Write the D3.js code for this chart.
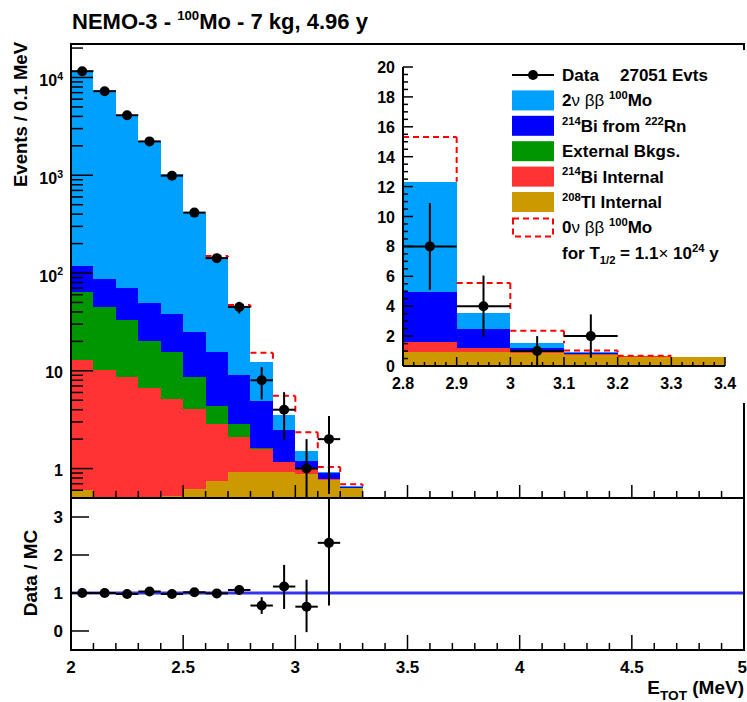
<!DOCTYPE html>
<html>
<head>
<meta charset="utf-8">
<script src="https://cdn.jsdelivr.net/npm/d3@7"></script>
<style>
body { margin: 0; background: #fff; }
text { font-family: "Liberation Sans", Arial, sans-serif; font-weight: bold; fill: #000; }
</style>
</head>
<body>
<script>
// bin lower edges (MeV), bin width 0.1
var binLo = [2.0, 2.1, 2.2, 2.3, 2.4, 2.5, 2.6, 2.7, 2.8, 2.9, 3.0, 3.1, 3.2, 3.3];
// MC components per bin (events / 0.1 MeV), stacked bottom -> top
var tl208    = [0.6, 0.3, 0.3, 0.3, 0.52, 0.62, 0.75, 0.93, 0.92, 0.93, 0.88, 0.76, 0.63, 0.62];
var bi214Int = [12.35, 10.0, 8.3, 6.4, 4.58, 3.48, 2.12, 1.17, 0.67, 0.25, 0.12, 0.03, 0.01, 0];
var extBkg   = [51, 34.2, 24.4, 13.3, 10.3, 4.5, 1.53, 0.73, 0.03, 0, 0, 0, 0, 0];
var bi214Rn  = [55, 42.5, 37, 29, 22.6, 16.4, 11, 6.2, 3.3, 1.32, 0.2, 0.11, 0.01, 0];
var twoNu    = [11210, 7320, 4040, 2170, 998, 385, 130, 35.5, 7.4, 1.05, 0.33, 0.02, 0.01, 0];
// 0nubb signal on top of the stack (dashed)
var zeroNu   = [0, 0, 0, 0, 0, 0, 4, 2.5, 3.0, 2.0, 0.82, 0.12, 0.03, 0];

// data
var dataCounts = [11600, 7240, 4110, 2220, 990, 415, 142, 45, 8, 4, 1, 2];
var dataLo     = [11490, 7155, 4046, 2173, 959, 395, 130, 38.6, 5.1, 1.95, 0, 0.55];
var dataHi     = [11710, 7325, 4174, 2267, 1021, 435, 154, 50.8, 10.9, 6.05, 2.0, 3.45];

// data / MC
var ratioVals = [1.0, 1.0, 0.975, 1.04, 0.975, 1.02, 0.99, 1.08, 0.67, 1.17, 0.64, 2.32];
var ratioLo   = [0.99, 0.99, 0.96, 1.02, 0.94, 0.97, 0.91, 0.96, 0.45, 0.58, -0.03, 0.67];
var ratioHi   = [1.01, 1.01, 0.99, 1.06, 1.01, 1.07, 1.07, 1.19, 0.89, 1.74, 1.35, 3.6];

var mainXTicks = [2, 2.5, 3, 3.5, 4, 4.5, 5];
var mainYDecades = [1, 10, 100, 1000, 10000];
var ratioYTicks = [0, 1, 2, 3];
var insetXTicks = [2.8, 2.9, 3.0, 3.1, 3.2, 3.3, 3.4];
var insetYTicks = [0, 2, 4, 6, 8, 10, 12, 14, 16, 18, 20];

var keys = ["tl", "biInt", "ext", "biRn", "twoNu"];
var colors = { tl: "#cc9900", biInt: "#ff3333", ext: "#009600", biRn: "#0000ff", twoNu: "#00a0ff" };

var rows = binLo.map(function(b, i) {
    return { lo: b, tl: tl208[i], biInt: bi214Int[i], ext: extBkg[i], biRn: bi214Rn[i], twoNu: twoNu[i], zero: zeroNu[i] };
});
var stacked = d3.stack().keys(keys)(rows);
var stackTop = rows.map(function(r, i) { return stacked[keys.length - 1][i][1]; });

var svg = d3.select("body").append("svg").attr("width", 747).attr("height", 702);

// scales
var x = d3.scaleLinear().domain([2, 5]).range([71, 744]);
var y = d3.scaleLog().domain([0.5, 22000]).range([498, 44]);
var yR = d3.scaleLinear().domain([-0.5, 3.5]).range([650, 498]);
var xi = d3.scaleLinear().domain([2.8, 3.4]).range([403, 725]);
var yi = d3.scaleLinear().domain([0, 20]).range([366, 67]);

// text with super/subscripts
function rich(t, parts, size) {
    var off = 0;
    parts.forEach(function(p) {
        var s = t.append("tspan").text(p.t);
        var target = p.sup ? -size * 0.42 : (p.sub ? size * 0.3 : 0);
        if (p.sup || p.sub) s.attr("font-size", size * (p.scale || 0.66));
        if (p.normal) s.style("font-weight", "normal");
        s.attr("dy", target - off);
        off = target;
    });
    return t;
}

var defs = svg.append("defs");
defs.append("clipPath").attr("id", "clipMain")
    .append("rect").attr("x", 71).attr("y", 44).attr("width", 673).attr("height", 454);
defs.append("clipPath").attr("id", "clipRatio")
    .append("rect").attr("x", 71).attr("y", 498).attr("width", 673).attr("height", 152);
defs.append("clipPath").attr("id", "clipInset")
    .append("rect").attr("x", 403).attr("y", 60).attr("width", 323).attr("height", 306);

// ---------- histogram drawing helpers ----------
function drawHist(g, xs, ys, nFrom, nTo, ymin) {
    stacked.forEach(function(layer) {
        g.append("g").selectAll("rect")
            .data(layer.slice(nFrom, nTo).filter(function(d) { return d[1] - d[0] > 0 && d[1] > ymin; }))
            .enter().append("rect")
            .attr("x", function(d) { return xs(d.data.lo); })
            .attr("width", function(d) { return xs(d.data.lo + 0.1) - xs(d.data.lo); })
            .attr("y", function(d) { return ys(d[1]); })
            .attr("height", function(d) { return ys(Math.max(d[0], ymin)) - ys(d[1]); })
            .attr("fill", colors[layer.key])
            .attr("shape-rendering", "crispEdges");
    });
}

// dashed 0nu outline, only the parts not hidden behind the filled stack
function drawSignal(g, xs, ys, nFrom, nTo, ymin) {
    var segs = [];
    function isSig(i) { return i >= nFrom && i < nTo && rows[i].zero > 0; }
    function top(i) { return (i >= nFrom && i < nTo) ? stackTop[i] : ymin; }
    for (var i = nFrom; i < nTo; i++) {
        if (!isSig(i)) continue;
        var d = stackTop[i] + rows[i].zero;
        segs.push([[binLo[i], d], [binLo[i] + 0.1, d]]);
        // left edge
        var dPrev = isSig(i - 1) ? stackTop[i - 1] + rows[i - 1].zero : top(i - 1);
        var hiV = Math.max(dPrev, d);
        var loV = Math.max(Math.min(dPrev, d), top(i - 1), stackTop[i]);
        if (hiV > loV) segs.push([[binLo[i], hiV], [binLo[i], loV]]);
        // right edge at the end of the signal run
        if (!isSig(i + 1)) {
            var loR = Math.max(top(i + 1), stackTop[i]);
            if (d > loR) segs.push([[binLo[i] + 0.1, d], [binLo[i] + 0.1, loR]]);
        }
    }
    g.append("g").selectAll("line").data(segs).enter().append("line")
        .attr("x1", function(s) { return xs(s[0][0]); })
        .attr("y1", function(s) { return ys(s[0][1]); })
        .attr("x2", function(s) { return xs(s[1][0]); })
        .attr("y2", function(s) { return ys(s[1][1]); })
        .attr("stroke", "#ff0000").attr("stroke-width", 2).attr("stroke-dasharray", "6,4");
}

function drawPoints(g, xs, ys, vals, lo, hi, idx) {
    var pg = g.selectAll(".pt").data(idx).enter().append("g");
    pg.append("line")
        .attr("x1", function(i) { return xs(binLo[i]); })
        .attr("x2", function(i) { return xs(binLo[i] + 0.1); })
        .attr("y1", function(i) { return ys(vals[i]); })
        .attr("y2", function(i) { return ys(vals[i]); })
        .attr("stroke", "#000").attr("stroke-width", 2);
    pg.append("line")
        .attr("x1", function(i) { return xs(binLo[i] + 0.05); })
        .attr("x2", function(i) { return xs(binLo[i] + 0.05); })
        .attr("y1", function(i) { return ys(Math.max(lo[i], ys.domain()[0])); })
        .attr("y2", function(i) { return ys(hi[i]); })
        .attr("stroke", "#000").attr("stroke-width", 2);
    pg.append("circle")
        .attr("cx", function(i) { return xs(binLo[i] + 0.05); })
        .attr("cy", function(i) { return ys(vals[i]); })
        .attr("r", 5).attr("fill", "#000");
}

// ---------- main panel ----------
var gMain = svg.append("g").attr("clip-path", "url(#clipMain)");
drawHist(gMain, x, y, 0, 13, 0.5);
drawSignal(gMain, x, y, 0, 13, 0.5);

// axis ticks (redrawn over fills)
var axes = svg.append("g").attr("stroke", "#000").attr("stroke-width", 1.5);
d3.range(20, 51).map(function(k) { return k / 10; }).forEach(function(v) {
    var major = Math.abs(v * 2 - Math.round(v * 2)) < 1e-6;
    axes.append("line").attr("x1", x(v)).attr("x2", x(v))
        .attr("y1", 498).attr("y2", 498 - (major ? 13 : 7));
    axes.append("line").attr("x1", x(v)).attr("x2", x(v))
        .attr("y1", 650).attr("y2", 650 - (major ? 15 : 7));
});
y.ticks().forEach(function(v) {
    var l = Math.log10(v);
    var major = Math.abs(l - Math.round(l)) < 1e-6;
    axes.append("line").attr("x1", 71).attr("x2", 71 + (major ? 22 : 12))
        .attr("y1", y(v)).attr("y2", y(v));
});
ratioYTicks.forEach(function(v) {
    axes.append("line").attr("x1", 71).attr("x2", 89).attr("y1", yR(v)).attr("y2", yR(v));
});

// main y labels
mainYDecades.forEach(function(v) {
    var e = Math.round(Math.log10(v));
    var t = svg.append("text").attr("x", 63).attr("y", y(v) + (e >= 2 ? 9 : 7))
        .attr("text-anchor", "end").attr("font-size", 16);
    if (e === 0) t.text("1");
    else if (e === 1) t.text("10");
    else rich(t, [{ t: "10" }, { t: String(e), sup: true }], 16);
});

// data points main
var gPts = svg.append("g").attr("clip-path", "url(#clipMain)");
drawPoints(gPts, x, y, dataCounts, dataLo, dataHi, d3.range(dataCounts.length));

// main frame
svg.append("rect").attr("x", 71).attr("y", 44).attr("width", 673).attr("height", 454)
    .attr("fill", "none").attr("stroke", "#000").attr("stroke-width", 2);

// ---------- ratio panel ----------
svg.append("line").attr("x1", x(2)).attr("x2", x(5)).attr("y1", yR(1)).attr("y2", yR(1))
    .attr("stroke", "#3535f0").attr("stroke-width", 3);
var gR = svg.append("g").attr("clip-path", "url(#clipRatio)");
drawPoints(gR, x, yR, ratioVals, ratioLo, ratioHi, d3.range(ratioVals.length));
svg.append("rect").attr("x", 71).attr("y", 498).attr("width", 673).attr("height", 152)
    .attr("fill", "none").attr("stroke", "#000").attr("stroke-width", 2);

ratioYTicks.forEach(function(v) {
    svg.append("text").attr("x", 63).attr("y", yR(v) + 6)
        .attr("text-anchor", "end").attr("font-size", 17).text(v);
});
mainXTicks.forEach(function(v, i) {
    var last = i === mainXTicks.length - 1;
    svg.append("text").attr("x", last ? 747 : x(v)).attr("y", 673)
        .attr("text-anchor", last ? "end" : "middle").attr("font-size", 17).text(v);
});

// titles
rich(svg.append("text").attr("x", 72).attr("y", 29).attr("font-size", 22),
    [{ t: "NEMO-3 - " }, { t: "100", sup: true, scale: 0.6 }, { t: "Mo - 7 kg, 4.96 y" }], 22);
svg.append("text").attr("transform", "translate(27,42) rotate(-90)")
    .attr("text-anchor", "end").attr("font-size", 18.5).text("Events / 0.1 MeV");
svg.append("text").attr("transform", "translate(37,573) rotate(-90)")
    .attr("text-anchor", "middle").attr("font-size", 19).text("Data / MC");
rich(svg.append("text").attr("x", 744).attr("y", 694).attr("text-anchor", "end").attr("font-size", 19),
    [{ t: "E" }, { t: "TOT", sub: true, scale: 0.72 }, { t: " (MeV)" }], 19);

// ---------- inset ----------
svg.append("rect").attr("x", 365).attr("y", 50).attr("width", 382).attr("height", 353).attr("fill", "#fff");
var gIn = svg.append("g").attr("clip-path", "url(#clipInset)");
drawHist(gIn, xi, yi, 8, 14, 0);
drawSignal(gIn, xi, yi, 8, 14, 0);

var inAxes = svg.append("g").attr("stroke", "#000").attr("stroke-width", 1.5);
d3.range(0, 41).forEach(function(k) {
    var v = k * 0.5;
    var major = k % 4 === 0;
    inAxes.append("line").attr("x1", 403).attr("x2", 403 + (major ? 10 : 5))
        .attr("y1", yi(v)).attr("y2", yi(v));
});
d3.range(0, 31).forEach(function(k) {
    var v = 2.8 + k * 0.02;
    var major = k % 5 === 0;
    inAxes.append("line").attr("x1", xi(v)).attr("x2", xi(v))
        .attr("y1", 366).attr("y2", 366 - (major ? 9 : 4));
});
inAxes.append("line").attr("x1", 403).attr("x2", 403).attr("y1", 67).attr("y2", 366).attr("stroke-width", 2);
inAxes.append("line").attr("x1", 403).attr("x2", 725).attr("y1", 366).attr("y2", 366).attr("stroke-width", 2);

var gInPts = svg.append("g").attr("clip-path", "url(#clipInset)");
drawPoints(gInPts, xi, yi, dataCounts, dataLo, dataHi, [8, 9, 10, 11]);

insetYTicks.forEach(function(v) {
    svg.append("text").attr("x", 395).attr("y", yi(v) + 6)
        .attr("text-anchor", "end").attr("font-size", 16).text(v);
});
insetXTicks.forEach(function(v) {
    svg.append("text").attr("x", xi(v)).attr("y", 389)
        .attr("text-anchor", "middle").attr("font-size", 16).text(+v.toFixed(1));
});

// ---------- legend ----------
var legendRows = [
    { kind: "data", parts: [{ t: "Data" }] },
    { kind: "twoNu", parts: [{ t: "2" }, { t: "ν ββ ", normal: true }, { t: "100", sup: true }, { t: "Mo" }] },
    { kind: "biRn", parts: [{ t: "214", sup: true }, { t: "Bi from " }, { t: "222", sup: true }, { t: "Rn" }] },
    { kind: "ext", parts: [{ t: "External Bkgs." }] },
    { kind: "biInt", parts: [{ t: "214", sup: true }, { t: "Bi Internal" }] },
    { kind: "tl", parts: [{ t: "208", sup: true }, { t: "Tl Internal" }] },
    { kind: "zero", parts: [{ t: "0" }, { t: "ν ββ ", normal: true }, { t: "100", sup: true }, { t: "Mo" }] },
    { kind: "none", parts: [{ t: "for T" }, { t: "1/2", sub: true }, { t: " = 1.1" }, { t: "×", normal: true }, { t: " 10" }, { t: "24", sup: true }, { t: " y" }] }
];
var leg = svg.append("g");
legendRows.forEach(function(r, i) {
    var cy = 75 + i * 25.4;
    if (r.kind === "data") {
        leg.append("line").attr("x1", 512).attr("x2", 554).attr("y1", cy).attr("y2", cy)
            .attr("stroke", "#000").attr("stroke-width", 2);
        leg.append("circle").attr("cx", 533).attr("cy", cy).attr("r", 5).attr("fill", "#000");
        leg.append("text").attr("x", 620).attr("y", cy + 6).attr("font-size", 17).text("27051 Evts");
    } else if (r.kind === "zero") {
        leg.append("rect").attr("x", 513).attr("y", cy - 9).attr("width", 40).attr("height", 18)
            .attr("fill", "none").attr("stroke", "#ff0000").attr("stroke-width", 2).attr("stroke-dasharray", "6,4");
    } else if (r.kind !== "none") {
        leg.append("rect").attr("x", 512).attr("y", cy - 10).attr("width", 42).attr("height", 20)
            .attr("fill", colors[r.kind]);
    }
    rich(leg.append("text").attr("x", 562).attr("y", cy + 6).attr("font-size", 17), r.parts, 17);
});
</script>
</body>
</html>
